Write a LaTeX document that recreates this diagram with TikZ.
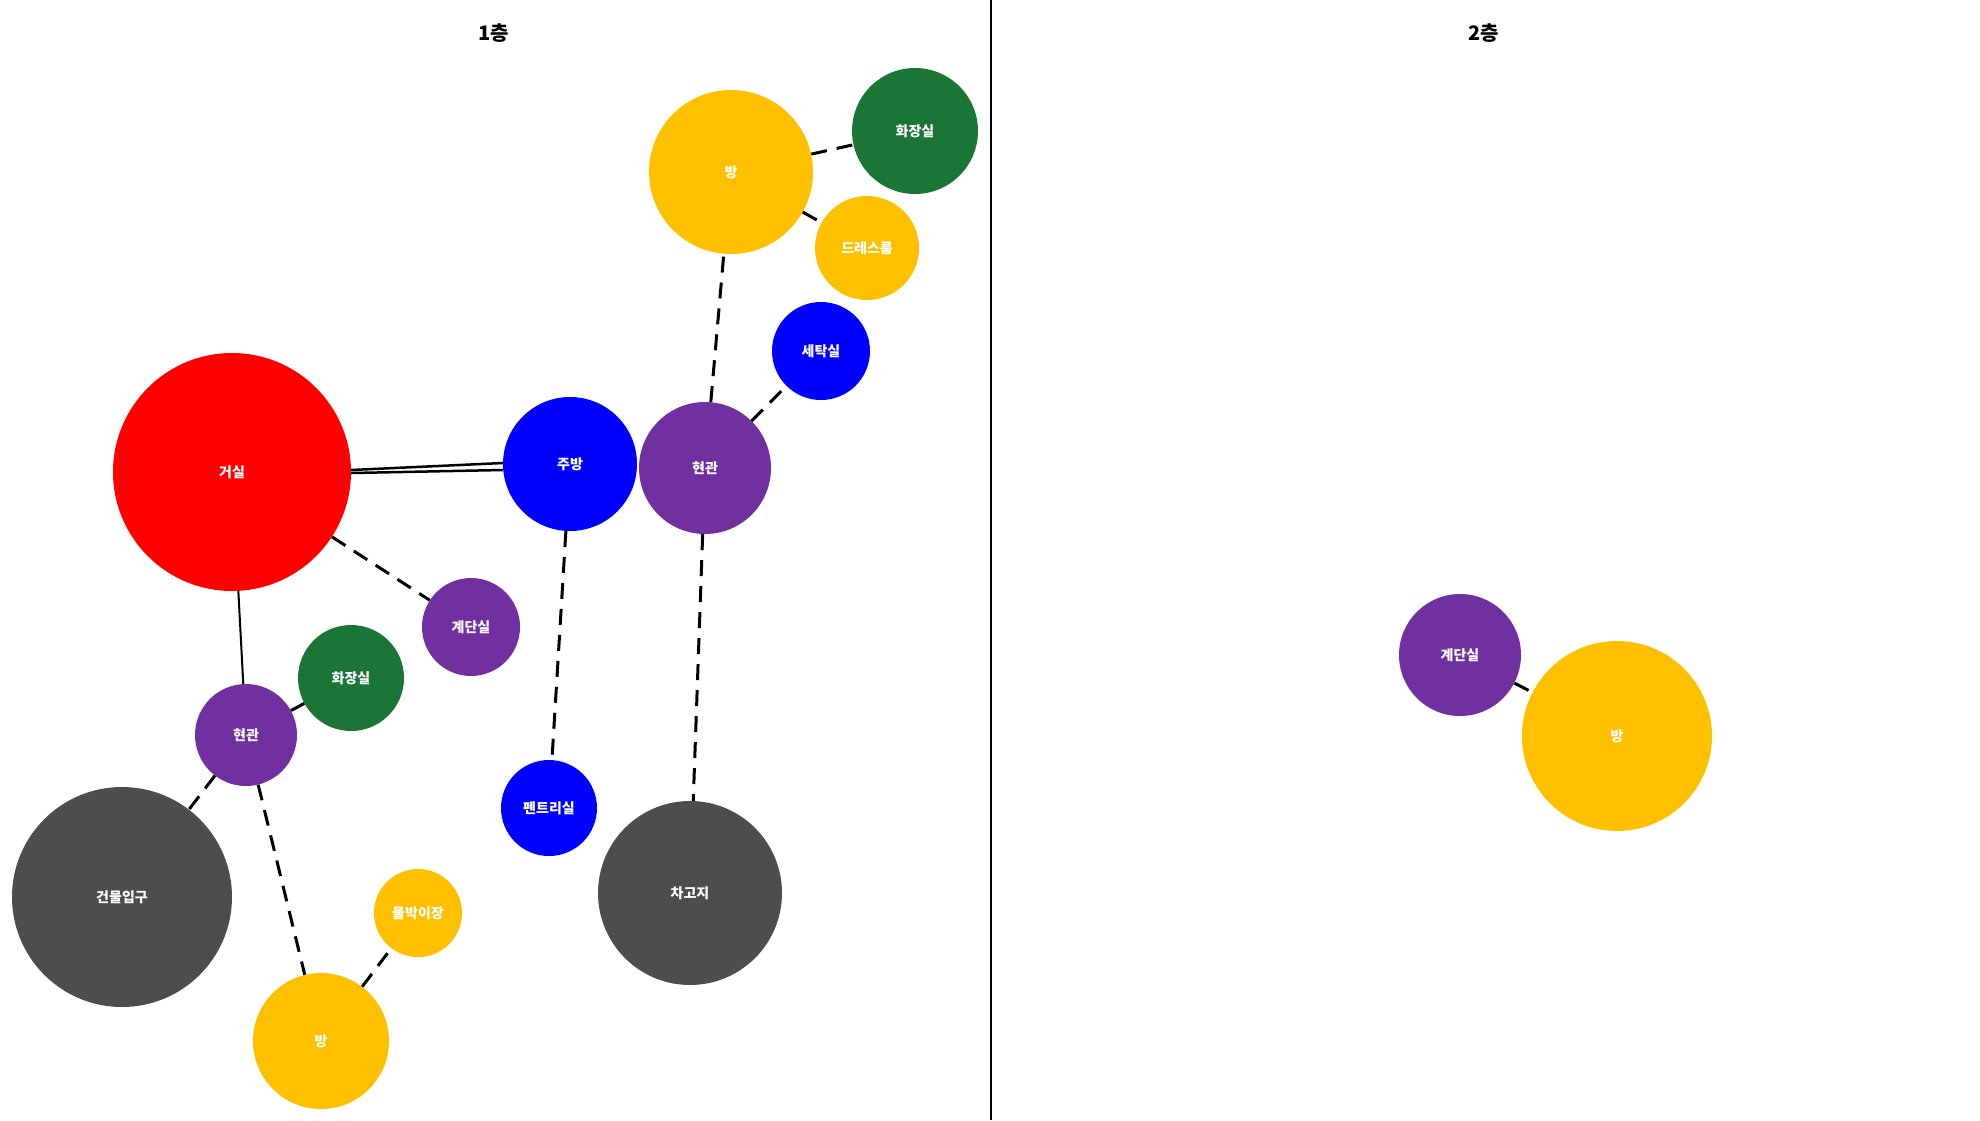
\documentclass[tikz,border=0pt]{standalone}
\usepackage{fontspec}
\setmainfont{Noto Sans CJK KR}
\definecolor{cred}{HTML}{FF0000}
\definecolor{cblue}{HTML}{0000FF}
\definecolor{cpurple}{HTML}{7030A0}
\definecolor{cyellow}{HTML}{FFC000}
\definecolor{cgreen}{HTML}{1B7537}
\definecolor{cgray}{HTML}{4D4D4D}
\tikzset{
  room/.style={circle, inner sep=0pt, text=white, font=\fontsize{14}{16}\selectfont\bfseries},
  title/.style={font=\fontsize{20}{24}\selectfont\bfseries, text=black},
  weak/.style={draw=black, line width=3pt, dash pattern=on 16pt off 10pt},
  strong/.style={draw=black, line width=2.5pt},
}
\begin{document}
\begin{tikzpicture}[x=1pt,y=-1pt]
\useasboundingbox (0,0) rectangle (1980,1120);
\fill[white] (0,0) rectangle (1980,1120);
\coordinate (dtop) at (991,0);
\coordinate (dbot) at (991,1120);
\draw[line width=1.5pt] (dtop) -- (dbot);
\node[title] (t1) at (494,33) {1층};
\node[title] (t2) at (1484,33) {2층};
% floor 1
\node[room, fill=cred, minimum size=238pt] (L1) at (232,472) {거실};
\node[room, fill=cblue, minimum size=134pt] (K) at (570,464) {주방};
\node[room, fill=cpurple, minimum size=132pt] (E1) at (705,468) {현관};
\node[room, fill=cyellow, minimum size=164pt] (R1) at (731,172) {방};
\node[room, fill=cgreen, minimum size=126pt] (T1) at (915,131) {화장실};
\node[room, fill=cyellow, minimum size=104pt] (D) at (867,248) {드레스룸};
\node[room, fill=cblue, minimum size=98pt] (W) at (821,351) {세탁실};
\node[room, fill=cpurple, minimum size=98pt] (S1) at (471,627) {계단실};
\node[room, fill=cgreen, minimum size=106pt] (T2) at (351,678) {화장실};
\node[room, fill=cpurple, minimum size=102pt] (E2) at (246,735) {현관};
\node[room, fill=cgray, minimum size=220pt] (B) at (122,897) {건물입구};
\node[room, fill=cyellow, minimum size=136pt] (R2) at (321,1041) {방};
\node[room, fill=cyellow, minimum size=88pt] (M) at (418,913) {물박이장};
\node[room, fill=cblue, minimum size=96pt] (P) at (549,808) {펜트리실};
\node[room, fill=cgray, minimum size=184pt] (G) at (690,893) {차고지};
% floor 2
\node[room, fill=cpurple, minimum size=122pt] (S2) at (1460,655) {계단실};
\node[room, fill=cyellow, minimum size=190pt] (R3) at (1617,736) {방};
% edges
\draw[strong] ([yshift=2pt]L1.east) -- ([yshift=1pt]K.west);
\draw[strong] ([yshift=-1pt]L1.east) -- ([yshift=-6pt]K.west);
\draw[strong, line width=2pt] (L1) -- (E2);
\draw[weak] (L1) -- (S1);
\draw[weak] (K) -- (P);
\draw[weak] (E1) -- (G);
\draw[weak] (E1) -- (R1);
\draw[weak] (E1) -- (W);
\draw[weak] (R1) -- (T1);
\draw[weak] (R1) -- (D);
\draw[weak] (E2) -- (T2);
\draw[weak] (E2) -- (B);
\draw[weak] (E2) -- (R2);
\draw[weak] (R2) -- (M);
\draw[weak] (S2) -- (R3);
\end{tikzpicture}
\end{document}
